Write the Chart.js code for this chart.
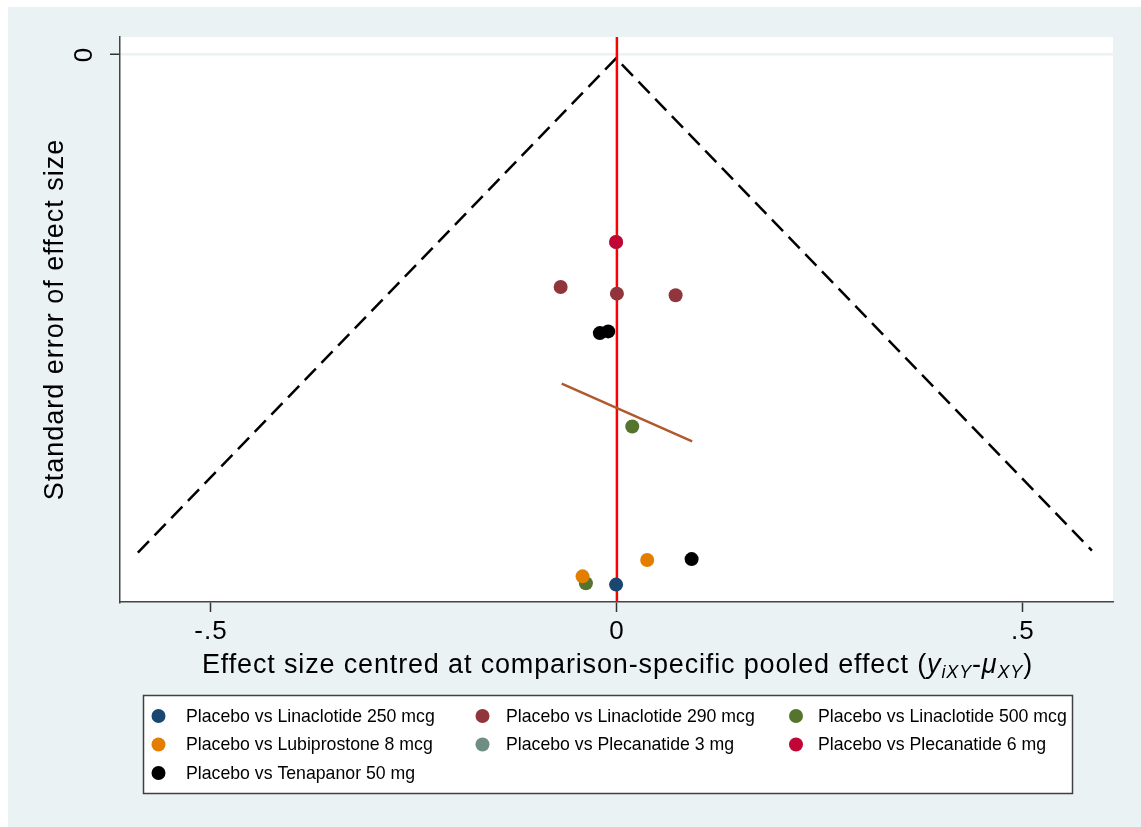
<!DOCTYPE html>
<html>
<head>
<meta charset="utf-8">
<title>Comparison-adjusted funnel plot</title>
<script src="https://cdn.jsdelivr.net/npm/chart.js@4.4.1/dist/chart.umd.min.js"></script>
<style>
  html, body { margin: 0; padding: 0; background: #fff; }
  canvas { display: block; }
</style>
</head>
<body>
<canvas id="funnelChart" width="1141" height="827"></canvas>
<script>
// ---- data ----
const seriesLabels = [
    'Placebo vs Linaclotide 250 mcg',
    'Placebo vs Linaclotide 290 mcg',
    'Placebo vs Linaclotide 500 mcg',
    'Placebo vs Lubiprostone 8 mcg',
    'Placebo vs Plecanatide 3 mg',
    'Placebo vs Plecanatide 6 mg',
    'Placebo vs Tenapanor 50 mg'
];
const seriesColors = ['#1a476f', '#90353b', '#55752f', '#e37e00', '#6e8e84', '#c10534', '#000000'];

// effect size (x) and standard error (y) per comparison
const lin250X = [-0.001];
const lin250Y = [0.3204];
const lin290X = [-0.0693, 0.0, 0.0723];
const lin290Y = [0.1407, 0.1447, 0.1457];
const lin500X = [0.0189, -0.0382];
const lin500Y = [0.2249, 0.3196];
const lubiX = [-0.0423, 0.0373];
const lubiY = [0.3154, 0.3055];
const plec3X = [-0.001];
const plec3Y = [0.1135];
const plec6X = [-0.001];
const plec6Y = [0.1135];
const tenaX = [-0.021, -0.0107, 0.092];
const tenaY = [0.1685, 0.1675, 0.305];

const seriesX = [lin250X, lin290X, lin500X, lubiX, plec3X, plec6X, tenaX];
const seriesY = [lin250Y, lin290Y, lin500Y, lubiY, plec3Y, plec6Y, tenaY];

// pseudo 95% limits and fitted line
const funnelX = [-0.590, -0.001, 0.585];
const funnelY = [0.3011, 0.0026, 0.2999];
const fitX = [-0.068, 0.0927];
const fitY = [0.1990, 0.2339];

const xTicks = [-0.5, 0, 0.5];
const yTicks = [0];
const xRange = [-0.612, 0.611];
const yRange = [-0.0103, 0.3309];

const FONT = "'Liberation Sans', Arial, sans-serif";

function zip(xs, ys) {
    return xs.map((x, i) => ({ x: x, y: ys[i] }));
}

function tickText(v) {
    if (v === 0) return '0';
    return String(v).replace('0.', '.');
}

// ---- plugins ----
const backgroundPlugin = {
    id: 'stataBackground',
    beforeDraw(chart) {
        const { ctx, width, height, chartArea: a } = chart;
        ctx.save();
        ctx.fillStyle = '#ffffff';
        ctx.fillRect(0, 0, width, height);
        ctx.fillStyle = '#eaf2f3';
        ctx.fillRect(8, 7, width - 8, height - 7);
        ctx.fillStyle = '#ffffff';
        ctx.fillRect(a.left, a.top, a.right - a.left, a.bottom - a.top);
        ctx.restore();
        // Stata text runs a bit wider than Arial
        ctx.letterSpacing = '1px';
    }
};

const annotationPlugin = {
    id: 'stataText',
    afterDraw(chart) {
        const ctx = chart.ctx;
        const yScale = chart.scales.y;
        ctx.save();

        // y tick label, rotated like Stata
        ctx.letterSpacing = '0px';
        ctx.fillStyle = '#000';
        ctx.font = '26px ' + FONT;
        ctx.textAlign = 'center';
        ctx.textBaseline = 'middle';
        yTicks.forEach(v => {
            ctx.save();
            ctx.translate(85, yScale.getPixelForValue(v) + 1);
            ctx.rotate(-Math.PI / 2);
            ctx.fillText(tickText(v), 0, 0);
            ctx.restore();
        });

        // x axis title with italic subscripts
        const parts = [
            { t: 'Effect size centred at comparison-specific pooled effect (', f: '27px ' + FONT, dy: 0 },
            { t: 'y', f: 'italic 27px ' + FONT, dy: 0 },
            { t: 'iXY', f: 'italic 18px ' + FONT, dy: 5 },
            { t: '-', f: '27px ' + FONT, dy: 0 },
            { t: 'μ', f: 'italic 27px ' + FONT, dy: 0 },
            { t: 'XY', f: 'italic 18px ' + FONT, dy: 5 },
            { t: ')', f: '27px ' + FONT, dy: 0 }
        ];
        ctx.letterSpacing = '0.85px';
        ctx.textAlign = 'left';
        ctx.textBaseline = 'alphabetic';
        let total = 0;
        parts.forEach(p => { ctx.font = p.f; p.w = ctx.measureText(p.t).width; total += p.w; });
        let x = 617.5 - total / 2;
        parts.forEach(p => {
            ctx.font = p.f;
            ctx.fillText(p.t, x, 673 + p.dy);
            x += p.w;
        });

        // legend box
        ctx.letterSpacing = '0px';
        ctx.fillStyle = '#ffffff';
        ctx.fillRect(143, 695, 930, 99);
        ctx.strokeStyle = '#404040';
        ctx.lineWidth = 1.5;
        ctx.strokeRect(143.5, 695.5, 929, 98);
        const markerX = [158.5, 482.5, 796];
        const textX = [186, 506, 818];
        const rowY = [716, 744.5, 773];
        ctx.font = '17.7px ' + FONT;
        ctx.textBaseline = 'middle';
        seriesLabels.forEach((label, i) => {
            const col = i % 3;
            const row = Math.floor(i / 3);
            ctx.fillStyle = seriesColors[i];
            ctx.beginPath();
            ctx.arc(markerX[col], rowY[row], 7, 0, Math.PI * 2);
            ctx.fill();
            ctx.fillStyle = '#000';
            ctx.fillText(label, textX[col], rowY[row] + 1);
        });

        ctx.restore();
    }
};

// ---- datasets ----
const pointSets = seriesLabels.map((label, i) => ({
    label: label,
    data: zip(seriesX[i], seriesY[i]),
    backgroundColor: seriesColors[i],
    borderWidth: 0,
    pointRadius: 7,
    pointHoverRadius: 7,
    order: 20 - i
}));

const datasets = [
    {
        label: 'funnel',
        data: zip(funnelX, funnelY),
        showLine: true,
        borderColor: '#000',
        borderWidth: 2.5,
        borderDash: [16, 8],
        pointRadius: 0,
        order: 100
    },
    {
        label: 'zero',
        data: [{ x: 0, y: yRange[0] }, { x: 0, y: yRange[1] }],
        showLine: true,
        borderColor: '#ff0000',
        borderWidth: 2.5,
        pointRadius: 0,
        order: 90
    },
    {
        label: 'fit',
        data: zip(fitX, fitY),
        showLine: true,
        borderColor: '#b0592c',
        borderWidth: 2.5,
        pointRadius: 0,
        order: 80
    }
].concat(pointSets);

new Chart(document.getElementById('funnelChart'), {
    type: 'scatter',
    data: { datasets: datasets },
    options: {
        responsive: false,
        animation: false,
        events: [],
        layout: { padding: { left: 39, top: 37, right: 28, bottom: 165 } },
        plugins: {
            legend: { display: false },
            tooltip: { enabled: false }
        },
        scales: {
            x: {
                type: 'linear',
                min: xRange[0],
                max: xRange[1],
                afterBuildTicks: scale => { scale.ticks = xTicks.map(v => ({ value: v })); },
                afterFit: scale => { scale.height = 60; },
                ticks: {
                    color: '#000',
                    padding: 4,
                    maxRotation: 0,
                    font: { family: FONT, size: 26 },
                    callback: v => tickText(v)
                },
                grid: {
                    drawOnChartArea: false,
                    tickLength: 10,
                    tickColor: '#333',
                    tickWidth: 1.5
                },
                border: { color: '#444', width: 1.5 }
            },
            y: {
                type: 'linear',
                reverse: true,
                min: yRange[0],
                max: yRange[1],
                afterBuildTicks: scale => { scale.ticks = yTicks.map(v => ({ value: v })); },
                afterFit: scale => { scale.width = 81; },
                ticks: { display: false },
                title: {
                    display: true,
                    text: 'Standard error of effect size',
                    color: '#000',
                    padding: 0,
                    font: { family: FONT, size: 27, lineHeight: 1.2 }
                },
                grid: {
                    color: '#eaf2f3',
                    lineWidth: 2.5,
                    tickLength: 10,
                    tickColor: '#333',
                    tickWidth: 1.5
                },
                border: { color: '#444', width: 1.5 }
            }
        }
    },
    plugins: [backgroundPlugin, annotationPlugin]
});
</script>
</body>
</html>
